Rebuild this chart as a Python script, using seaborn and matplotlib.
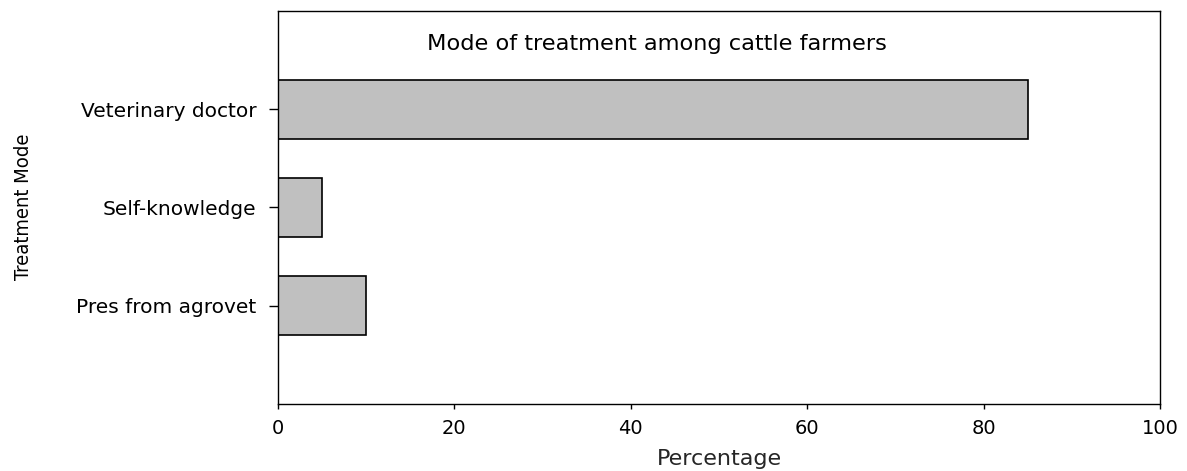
import matplotlib
matplotlib.use("Agg")
import matplotlib.pyplot as plt
import seaborn as sns
import pandas as pd

# data
modes = ["Veterinary doctor", "Self-knowledge", "Pres from agrovet"]
percentages = [85, 5, 10]
x_ticks = [0, 20, 40, 60, 80, 100]

df = pd.DataFrame({"Mode": modes, "Percentage": percentages})

sns.set_theme(style="white")
plt.rcParams['font.family'] = ['DejaVu Sans']
plt.rcParams['text.color'] = 'black'
plt.rcParams['xtick.color'] = 'black'
plt.rcParams['ytick.color'] = 'black'

fig = plt.figure(figsize=(11.87, 4.71), dpi=100)
ax = fig.add_axes([0.2342, 0.1423, 0.9773 - 0.2342, 0.9766 - 0.1423])

sns.barplot(data=df, x="Percentage", y="Mode", order=modes, color="#c0c0c0",
            edgecolor="black", linewidth=1.2, width=0.6, saturation=1, ax=ax)

ax.set_xlim(0, 100)
ax.set_ylim(3, -1)
ax.set_xticks(x_ticks)
ax.set_xticklabels([str(t) for t in x_ticks])
ax.tick_params(axis="y", labelsize=14.5, length=6.5, width=1, left=True, pad=9)
ax.tick_params(axis="x", labelsize=14, length=3.6, width=1, bottom=True, pad=7)
for s in ax.spines.values():
    s.set_visible(True)
    s.set_color("black")
    s.set_linewidth(1.0)

ax.set_xlabel("Percentage", fontsize=16, labelpad=8)
ax.set_ylabel("")
fig.text(0.0195, 0.56, "Treatment Mode", rotation=90, ha="center", va="center",
         fontsize=14.5, fontstretch="condensed")
ax.text(0.43, 0.916, "Mode of treatment among cattle farmers", transform=ax.transAxes,
        ha="center", va="center", fontsize=16.2)

fig.savefig("out.png", dpi=100)
